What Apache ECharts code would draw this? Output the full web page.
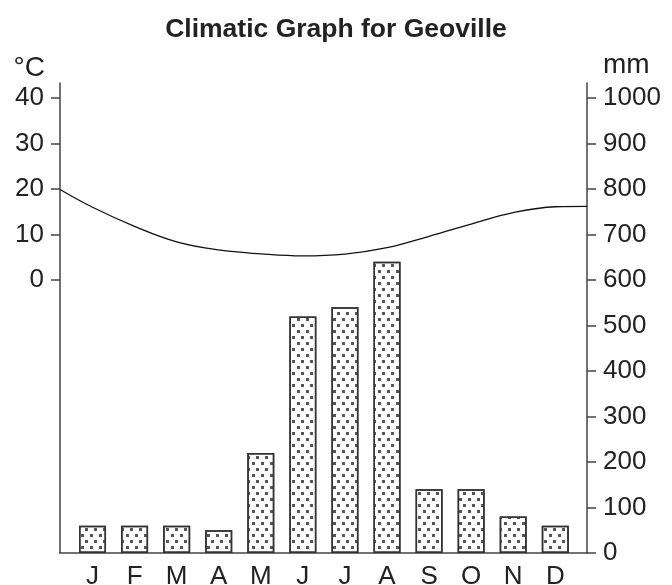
<!DOCTYPE html>
<html>
<head>
<meta charset="utf-8">
<script src="https://cdn.jsdelivr.net/npm/echarts@6/dist/echarts.min.js"></script>
<style>
  html, body { margin: 0; padding: 0; background: #fff; }
  #chart { width: 672px; height: 585px; }
</style>
</head>
<body>
<div id="chart"></div>
<script>
// ---- data ----
const months = ['J', 'F', 'M', 'A', 'M', 'J', 'J', 'A', 'S', 'O', 'N', 'D'];
const rainfall = [60, 60, 60, 50, 220, 520, 540, 640, 140, 140, 80, 60];                 // mm
const temperature = [16.0, 11.8, 8.4, 6.6, 5.75, 5.3, 5.7, 7.1, 9.6, 12.3, 14.8, 16.1];  // °C
const tempStart = 19.9;   // curve value at the left edge of the plot
const tempEnd = 16.2;     // curve value at the right edge of the plot
const tempTicks = [0, 10, 20, 30, 40];
const rainTicks = [0, 100, 200, 300, 400, 500, 600, 700, 800, 900, 1000];

// ---- axis extents (x in month-index units) ----
const xMin = -0.773, xMax = 11.754;
const rainMax = 1033;
const tempMin = -60, tempMax = 43.3;

const FONT = "'Liberation Sans', Arial, Helvetica, sans-serif";
const AXIS_COLOR = '#444';
const TEXT_COLOR = '#222';

const rainData = rainfall.map((v, i) => [i, v]);
const tempData = [[xMin, tempStart]]
  .concat(temperature.map((v, i) => [i, v]))
  .concat([[xMax, tempEnd]]);

const chart = echarts.init(document.getElementById('chart'), null, { renderer: 'canvas' });
chart.setOption({
  backgroundColor: '#fff',
  animation: false,
  title: {
    text: 'Climatic Graph for Geoville',
    left: 'center',
    top: 11,
    textStyle: { fontFamily: FONT, fontSize: 26.5, fontWeight: 'bold', color: TEXT_COLOR }
  },
  grid: { left: 60, right: 85, top: 83, bottom: 32, containLabel: false, outerBoundsMode: 'none' },
  xAxis: {
    type: 'value',
    min: xMin,
    max: xMax,
    splitLine: { show: false },
    axisLine: { show: true, onZero: false, lineStyle: { color: AXIS_COLOR, width: 1.5 } },
    axisTick: { show: false },
    axisLabel: {
      customValues: months.map((m, i) => i),
      formatter: v => months[Math.round(v)],
      fontFamily: FONT, fontSize: 26, color: TEXT_COLOR, margin: 11,
      showMinLabel: true, showMaxLabel: true
    }
  },
  yAxis: [
    {
      type: 'value',
      position: 'left',
      min: tempMin,
      max: tempMax,
      name: '°C',
      nameLocation: 'end',
      nameGap: 15,
      nameTextStyle: { fontFamily: FONT, fontSize: 28, color: TEXT_COLOR, align: 'right', verticalAlign: 'middle', padding: [0, 15, 0, 0] },
      splitLine: { show: false },
      axisLine: { show: true, onZero: false, lineStyle: { color: AXIS_COLOR, width: 1.5 } },
      axisTick: { show: true, customValues: tempTicks, length: 9, lineStyle: { color: AXIS_COLOR, width: 1.5 } },
      axisLabel: { customValues: tempTicks, formatter: v => String(v), fontFamily: FONT, fontSize: 26, color: TEXT_COLOR, margin: 16 }
    },
    {
      type: 'value',
      position: 'right',
      min: 0,
      max: rainMax,
      name: 'mm',
      nameLocation: 'end',
      nameGap: 18,
      nameTextStyle: { fontFamily: FONT, fontSize: 28, color: TEXT_COLOR, align: 'left', verticalAlign: 'middle', padding: [0, 0, 0, 16] },
      splitLine: { show: false },
      axisLine: { show: true, onZero: false, lineStyle: { color: AXIS_COLOR, width: 1.5 } },
      axisTick: { show: true, customValues: rainTicks, length: 9, lineStyle: { color: AXIS_COLOR, width: 1.5 } },
      axisLabel: { customValues: rainTicks, formatter: v => String(v), fontFamily: FONT, fontSize: 26, color: TEXT_COLOR, margin: 16 }
    }
  ],
  series: [
    {
      name: 'Rainfall',
      type: 'bar',
      yAxisIndex: 1,
      data: rainData,
      barWidth: 27,
      itemStyle: {
        color: '#fff',
        borderColor: '#333',
        borderWidth: 1.5,
        decal: {
          symbol: 'rect',
          symbolSize: 1,
          color: '#555',
          dashArrayX: [[2.5, 5.5], [0, 4, 2.5, 1.5]],
          dashArrayY: [2.5, 3]
        }
      }
    },
    {
      name: 'Temperature',
      type: 'line',
      yAxisIndex: 0,
      data: tempData,
      smooth: 0.4,
      symbol: 'none',
      lineStyle: { color: '#111', width: 1.3 }
    }
  ]
});
</script>
</body>
</html>
